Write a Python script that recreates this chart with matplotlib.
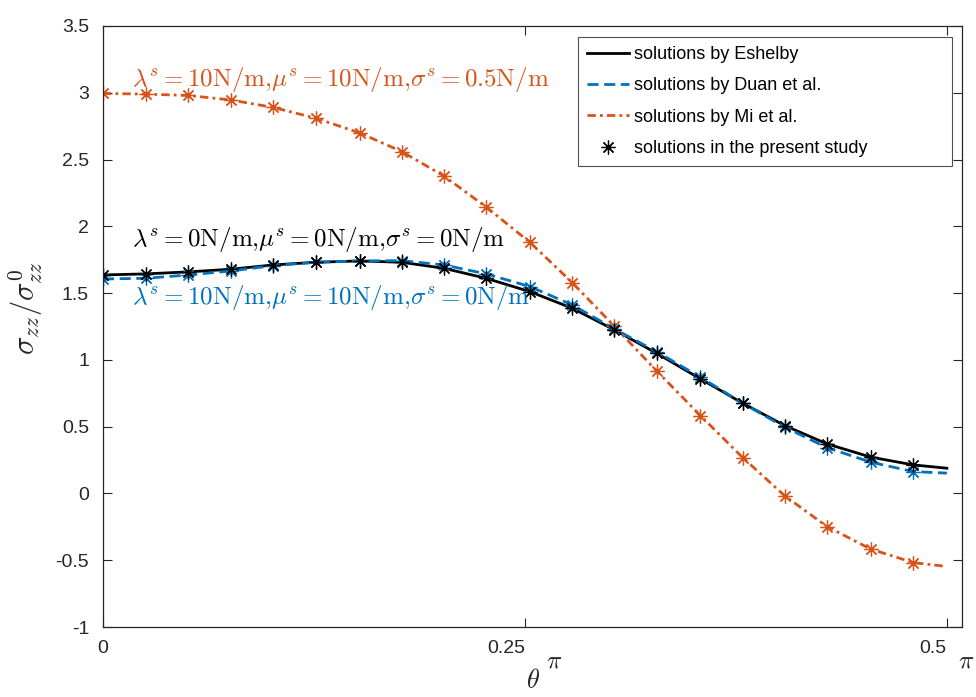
import matplotlib
matplotlib.use('Agg')
import matplotlib.pyplot as plt

plt.rcParams['font.family'] = ['Liberation Sans', 'DejaVu Sans']
plt.rcParams['mathtext.fontset'] = 'cm'

# theta in units of pi
theta_mark = [0, 0.0253, 0.0505, 0.0758, 0.101, 0.126, 0.152, 0.177, 0.202, 0.227,
              0.253, 0.278, 0.303, 0.328, 0.354, 0.379, 0.404, 0.429, 0.455, 0.480]
theta_line = theta_mark + [0.5]

eshelby = [1.636, 1.644, 1.659, 1.679, 1.711, 1.731, 1.741, 1.731, 1.686, 1.611,
           1.511, 1.387, 1.225, 1.050, 0.858, 0.676, 0.508, 0.371, 0.272, 0.214, 0.189]
duan = [1.606, 1.611, 1.636, 1.666, 1.706, 1.731, 1.741, 1.743, 1.711, 1.644,
        1.549, 1.412, 1.232, 1.062, 0.870, 0.676, 0.496, 0.343, 0.234, 0.164, 0.152]
mi = [2.995, 2.990, 2.980, 2.946, 2.890, 2.810, 2.700, 2.560, 2.377, 2.145,
      1.880, 1.579, 1.252, 0.918, 0.583, 0.269, -0.018, -0.248, -0.417, -0.517, -0.547]

labels = ['solutions by Eshelby', 'solutions by Duan et al.',
          'solutions by Mi et al.', 'solutions in the present study']

blue = '#0072BD'
orange = '#D95319'
axc = '#262626'

fig = plt.figure(figsize=(9.76, 6.97), dpi=100)
ax = fig.add_axes([0.1055, 0.1004, 0.8802, 0.8623])

h1, = ax.plot(theta_line, eshelby, color='black', lw=2, label=labels[0])
h2, = ax.plot(theta_line, duan, color=blue, lw=2, ls=(0, (4, 2)), label=labels[1])
h3, = ax.plot(theta_line, mi, color=orange, lw=2, ls=(0, (3, 1.5, 1, 1.5)), label=labels[2])

star = (8, 2, 0)
n = len(theta_mark)
ax.plot(theta_mark, mi[:n], ls='none', marker=star, ms=10, mew=0.9, color=orange)
ax.plot(theta_mark, duan[:n], ls='none', marker=star, ms=10, mew=0.9, color=blue)
h4, = ax.plot(theta_mark, eshelby[:n], ls='none', marker=star, ms=10, mew=0.9,
              color='black', label=labels[3])

ax.set_xlim(0, 0.509)
ax.set_ylim(-1, 3.5)
ax.set_xticks([0, 0.25, 0.5])
ax.set_xticklabels(['0', '0.25', '0.5'])
for lab in ax.get_xticklabels()[1:]:
    lab.set_ha('right')
ax.set_yticks([-1, -0.5, 0, 0.5, 1, 1.5, 2, 2.5, 3, 3.5])
ax.set_yticklabels(['-1', '-0.5', '0', '0.5', '1', '1.5', '2', '2.5', '3', '3.5'])

ax.tick_params(direction='in', length=6.5, width=0.8, colors=axc, labelsize=14,
               top=True, right=True)
ax.tick_params(axis='x', pad=9)
ax.tick_params(axis='y', pad=10)
for s in ax.spines.values():
    s.set_color(axc)
    s.set_linewidth(0.9)

# pi marks next to tick labels
ax.text(0.2673, -0.056, r'$\pi$', transform=ax.get_xaxis_transform(),
        fontsize=18, color=axc, ha='center', va='center')
ax.text(0.5114, -0.056, r'$\pi$', transform=ax.get_xaxis_transform(),
        fontsize=18, color=axc, ha='center', va='center')

ax.set_xlabel(r'$\theta$', fontsize=19, color=axc)
ax.xaxis.set_label_coords(0.5006, -0.07)
ax.set_ylabel(r'$\sigma_{zz}/\sigma_{zz}^{0}$', fontsize=22, color=axc)
ax.yaxis.set_label_coords(-0.068, 0.53)

ax.text(0.017, 3.051,
        r'$\lambda^s=10\mathrm{N/m}{,}\mu^s=10\mathrm{N/m}{,}\sigma^s=0.5\mathrm{N/m}$',
        color=orange, fontsize=18, va='baseline')
ax.text(0.017, 1.853,
        r'$\lambda^s=0\mathrm{N/m}{,}\mu^s=0\mathrm{N/m}{,}\sigma^s=0\mathrm{N/m}$',
        color='black', fontsize=18, va='baseline')
ax.text(0.017, 1.419,
        r'$\lambda^s=10\mathrm{N/m}{,}\mu^s=10\mathrm{N/m}{,}\sigma^s=0\mathrm{N/m}$',
        color=blue, fontsize=18, va='baseline')

leg = ax.legend(handles=[h1, h2, h3, h4], loc='upper left',
                bbox_to_anchor=(0.553, 0.764, 0.435, 0.218), mode='expand',
                fontsize=13, frameon=True, fancybox=False, edgecolor=axc,
                handlelength=2.3, handletextpad=0.3, labelspacing=0.8,
                borderpad=0.5, borderaxespad=0)
leg.get_frame().set_linewidth(0.8)

fig.savefig('out.png', dpi=100)
